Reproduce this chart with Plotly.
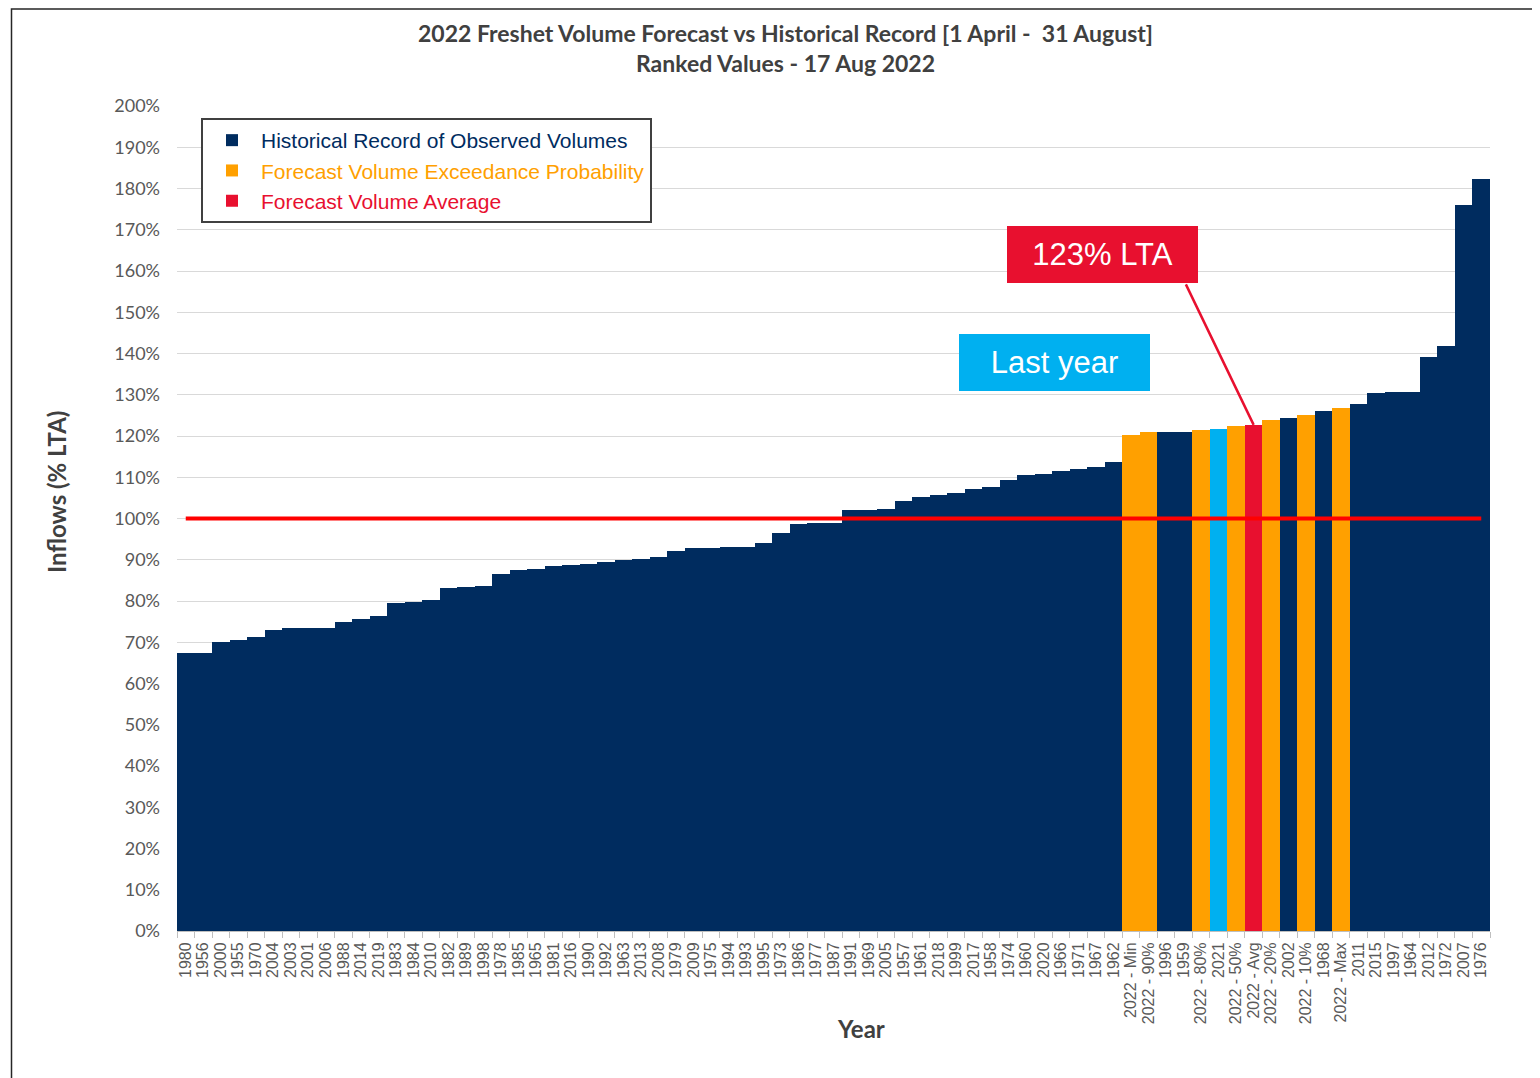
import plotly.graph_objects as go

# ---------------- data ----------------
categories = [
    "1980", "1956", "2000", "1955", "1970", "2004", "2003", "2001", "2006", "1988",
    "2014", "2019", "1983", "1984", "2010", "1982", "1989", "1998", "1978", "1985",
    "1965", "1981", "2016", "1990", "1992", "1963", "2013", "2008", "1979", "2009",
    "1975", "1994", "1993", "1995", "1973", "1986", "1977", "1987", "1991", "1969",
    "2005", "1957", "1961", "2018", "1999", "2017", "1958", "1974", "1960", "2020",
    "1966", "1971", "1967", "1962", "2022 - Min", "2022 - 90%", "1996", "1959",
    "2022 - 80%", "2021", "2022 - 50%", "2022 - Avg", "2022 - 20%", "2002",
    "2022 - 10%", "1968", "2022 - Max", "2011", "2015", "1997", "1964", "2012",
    "1972", "2007", "1976",
]
values = [
    67.4, 67.4, 70.1, 70.5, 71.3, 73.0, 73.5, 73.5, 73.5, 74.9,
    75.6, 76.4, 79.5, 79.8, 80.2, 83.2, 83.4, 83.6, 86.5, 87.5,
    87.8, 88.5, 88.7, 89.0, 89.5, 89.9, 90.2, 90.7, 92.1, 92.8,
    92.8, 93.1, 93.1, 94.1, 96.5, 98.7, 98.9, 98.9, 102.1, 102.1,
    102.3, 104.2, 105.2, 105.7, 106.2, 107.2, 107.6, 109.3, 110.5, 110.8,
    111.5, 112.0, 112.5, 113.7, 120.2, 121.0, 121.0, 121.0,
    121.5, 121.7, 122.4, 122.7, 123.9, 124.4,
    125.1, 126.1, 126.8, 127.7, 130.4, 130.7, 130.7, 139.1,
    141.7, 176.0, 182.2,
]
# H = historical, F = forecast exceedance, A = forecast average, L = last year
groups = [
    "H", "H", "H", "H", "H", "H", "H", "H", "H", "H",
    "H", "H", "H", "H", "H", "H", "H", "H", "H", "H",
    "H", "H", "H", "H", "H", "H", "H", "H", "H", "H",
    "H", "H", "H", "H", "H", "H", "H", "H", "H", "H",
    "H", "H", "H", "H", "H", "H", "H", "H", "H", "H",
    "H", "H", "H", "H", "F", "F", "H", "H",
    "F", "L", "F", "A", "F", "H",
    "F", "H", "F", "H", "H", "H", "H", "H",
    "H", "H", "H",
]
lta_level = [100, 100]
y_tick_values = list(range(0, 201, 10))
y_tick_labels = [f"{v}%" for v in y_tick_values]

title_line1 = "2022 Freshet Volume Forecast vs Historical Record [1 April -  31 August]"
title_line2 = "Ranked Values - 17 Aug 2022"
avg_label = "123% LTA"
last_label = "Last year"

# ---------------- styles ----------------
NAVY = "#002C5F"
ORANGE = "#FFA000"
RED = "#E8102F"
CYAN = "#00B0F0"
LINE_RED = "#FF0000"
TXT = "#595959"

series = [
    ("H", "Historical Record of Observed Volumes", NAVY, True),
    ("F", "Forecast Volume Exceedance Probability", ORANGE, True),
    ("A", "Forecast Volume Average", RED, True),
    ("L", "Last year", CYAN, False),
]

fig = go.Figure()
for code, name, color, show in series:
    xs = [c for c, g in zip(categories, groups) if g == code]
    ys = [v for v, g in zip(values, groups) if g == code]
    fig.add_trace(go.Bar(
        x=xs, y=ys,
        name=f'<span style="color:{color}">{name}</span>',
        marker=dict(color=color, line=dict(width=0)),
        showlegend=show,
        hovertemplate="%{x}: %{y:.1f}%<extra></extra>",
    ))

# 100% LTA reference line
fig.add_trace(go.Scatter(
    x=[categories[0], categories[-1]], y=lta_level,
    mode="lines", line=dict(color=LINE_RED, width=4),
    showlegend=False, hoverinfo="skip",
))

# page body has an 8px margin: build the figure so that the plot area lands
# at screen x 177..1490, y 106..931
OFF = 8
W, H = 1540 - OFF, 1078 - OFF
L, T = 177 - OFF, 106 - OFF
pw, ph = 1313, 825
R = W - L - pw
B = H - T - ph


def px(xs):
    return (xs - 177) / pw


def py(ys):
    return (931 - ys) / ph


TITLE_FONT = dict(family="Lato", size=23, color="#404040", weight="bold")
AXIS_TITLE_FONT = dict(family="Lato", size=24, color="#404040", weight="bold")

annotations = [
    dict(text=title_line1, x=px(785), y=py(33), xref="paper", yref="paper",
         showarrow=False, xanchor="center", yanchor="middle", font=TITLE_FONT),
    dict(text=title_line2, x=px(785), y=py(63), xref="paper", yref="paper",
         showarrow=False, xanchor="center", yanchor="middle", font=TITLE_FONT),
    dict(text="Inflows (% LTA)", x=px(56), y=py(492), xref="paper", yref="paper",
         showarrow=False, textangle=-90, xanchor="center", yanchor="middle",
         font=AXIS_TITLE_FONT),
    dict(text="Year", x=px(861), y=py(1028), xref="paper", yref="paper",
         showarrow=False, xanchor="center", yanchor="middle", font=AXIS_TITLE_FONT),
    # callout boxes
    dict(text=avg_label, x=px(1102.5), y=py(254.5), xref="paper", yref="paper",
         showarrow=False, xanchor="center", yanchor="middle",
         width=191, height=57, bgcolor=RED, borderpad=0, borderwidth=0,
         font=dict(family="Liberation Sans, Arial", size=31, color="white")),
    dict(text=last_label, x=px(1054.5), y=py(362), xref="paper", yref="paper",
         showarrow=False, xanchor="center", yanchor="middle",
         width=191, height=57, bgcolor=CYAN, borderpad=0, borderwidth=0,
         font=dict(family="Liberation Sans, Arial", size=31, color="white")),
]

# leader lines from the boxes to the bars
avg_i = groups.index("A")
last_i = groups.index("L")
annotations.append(dict(
    text="", x=categories[avg_i], y=values[avg_i], xref="x", yref="y",
    showarrow=True, arrowhead=0, arrowwidth=2.5, arrowcolor=RED,
    ax=1185 - 1253.5, ay=283 - 425, axref="pixel", ayref="pixel", standoff=0,
))
annotations.append(dict(
    text="", x=categories[last_i], y=values[last_i], xref="x", yref="y",
    showarrow=True, arrowhead=0, arrowwidth=2.5, arrowcolor=CYAN,
    ax=1150 - 1218.5, ay=368 - 429, axref="pixel", ayref="pixel", standoff=0,
))

fig.update_layout(
    width=W, height=H,
    margin=dict(l=L, r=R, t=T, b=B, pad=0),
    plot_bgcolor="white", paper_bgcolor="white",
    barmode="overlay", bargap=0,
    showlegend=True,
    legend=dict(
        x=px(201), y=py(118), xanchor="left", yanchor="top",
        xref="paper", yref="paper",
        bgcolor="white", bordercolor="#404040", borderwidth=2,
        font=dict(family="Liberation Sans, Arial", size=21, color=NAVY),
        traceorder="normal", itemclick=False, itemdoubleclick=False,
        tracegroupgap=0, itemwidth=48,
    ),
    annotations=annotations,
    shapes=[dict(type="rect", xref="paper", yref="paper",
                 x0=px(11.5), x1=px(1600), y0=py(9), y1=py(1090),
                 line=dict(color="#262626", width=1.5), fillcolor="rgba(0,0,0,0)",
                 layer="below")],
    font=dict(family="Liberation Sans, Arial", color=TXT),
)

fig.update_xaxes(
    type="category", categoryorder="array", categoryarray=categories,
    tickmode="array", tickvals=categories, ticktext=categories,
    range=[-0.5, len(categories) - 0.5],
    tickson="boundaries", ticks="outside", ticklen=6, tickcolor="#BFBFBF",
    ticklabelstandoff=4,
    tickangle=-90, tickfont=dict(family="Liberation Sans, Arial", size=16, color=TXT),
    showline=True, linecolor="#BFBFBF", linewidth=1,
    showgrid=False, zeroline=False,
)
fig.update_yaxes(
    range=[0, 200], tickmode="array", tickvals=y_tick_values, ticktext=y_tick_labels,
    tickfont=dict(family="Lato", size=18, color=TXT),
    ticklabelstandoff=16,
    showgrid=True, gridcolor="#D9D9D9", gridwidth=1,
    zeroline=False, showline=False,
)

fig.write_html("out.html")
